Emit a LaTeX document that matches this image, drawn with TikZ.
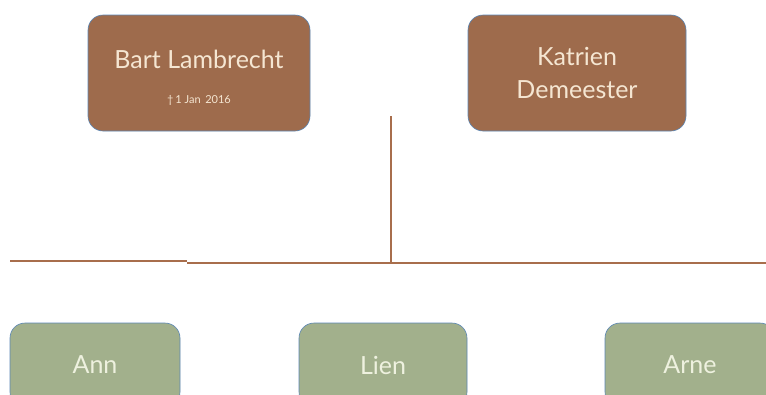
\documentclass[tikz,border=0pt]{standalone}
\usepackage{fontspec}
\setmainfont{Lato}
\usetikzlibrary{positioning,calc}
\definecolor{parentfill}{HTML}{9E6B4C}
\definecolor{childfill}{HTML}{A2B08C}
\definecolor{edgeblue}{HTML}{5A86B5}
\definecolor{linkbrown}{HTML}{A86E4C}
\definecolor{parenttext}{HTML}{F5E6D2}
\definecolor{childtext}{HTML}{EEF1DF}
\tikzset{
    parent/.style = {
        draw=edgeblue,
        fill=parentfill,
        shape=rectangle,
        rounded corners=15pt,
        minimum height=116pt,
        line width=0.6pt,
        text=parenttext,
        align=center,
        font=\fontsize{25}{33}\selectfont
    },
    child/.style = {
        draw=edgeblue,
        fill=childfill,
        shape=rectangle,
        rounded corners=15pt,
        minimum height=84pt,
        minimum width=170pt,
        line width=0.6pt,
        text=childtext,
        font=\fontsize{25}{30}\selectfont
    },
    link/.style = {
        draw=linkbrown,
        line width=2.6pt
    }
}

\begin{document}
\begin{tikzpicture}[x=1pt,y=-1pt]
        \useasboundingbox (0,0) rectangle (766,394);
        \node[parent, minimum width=222pt] (bart) at (199,73) {\rule{0pt}{27pt}Bart Lambrecht\\[2pt]{\fontsize{11}{12}\selectfont \textdagger\,1 Jan\, 2016}};
        \node[parent, minimum width=218pt] (katrien) at (577,73) {Katrien\\Demeester};
        \node[child] (ann) at (95,365) {Ann};
        \node[child, minimum width=168pt] (lien) at (383,365) {Lien};
        \node[child] (arne) at (690,365) {Arne};

        \coordinate (couple) at (391,116);
        \coordinate (fork) at (391,263);
        \coordinate (leftend) at (10,261);
        \coordinate (step) at (187,261);
        \coordinate (rightend) at (766,263);

        \path[link] (couple) -- (fork);
        \path[link] (leftend) -- (step);
        \path[link] (step |- fork) -- (rightend);
    \end{tikzpicture}
\end{document}
